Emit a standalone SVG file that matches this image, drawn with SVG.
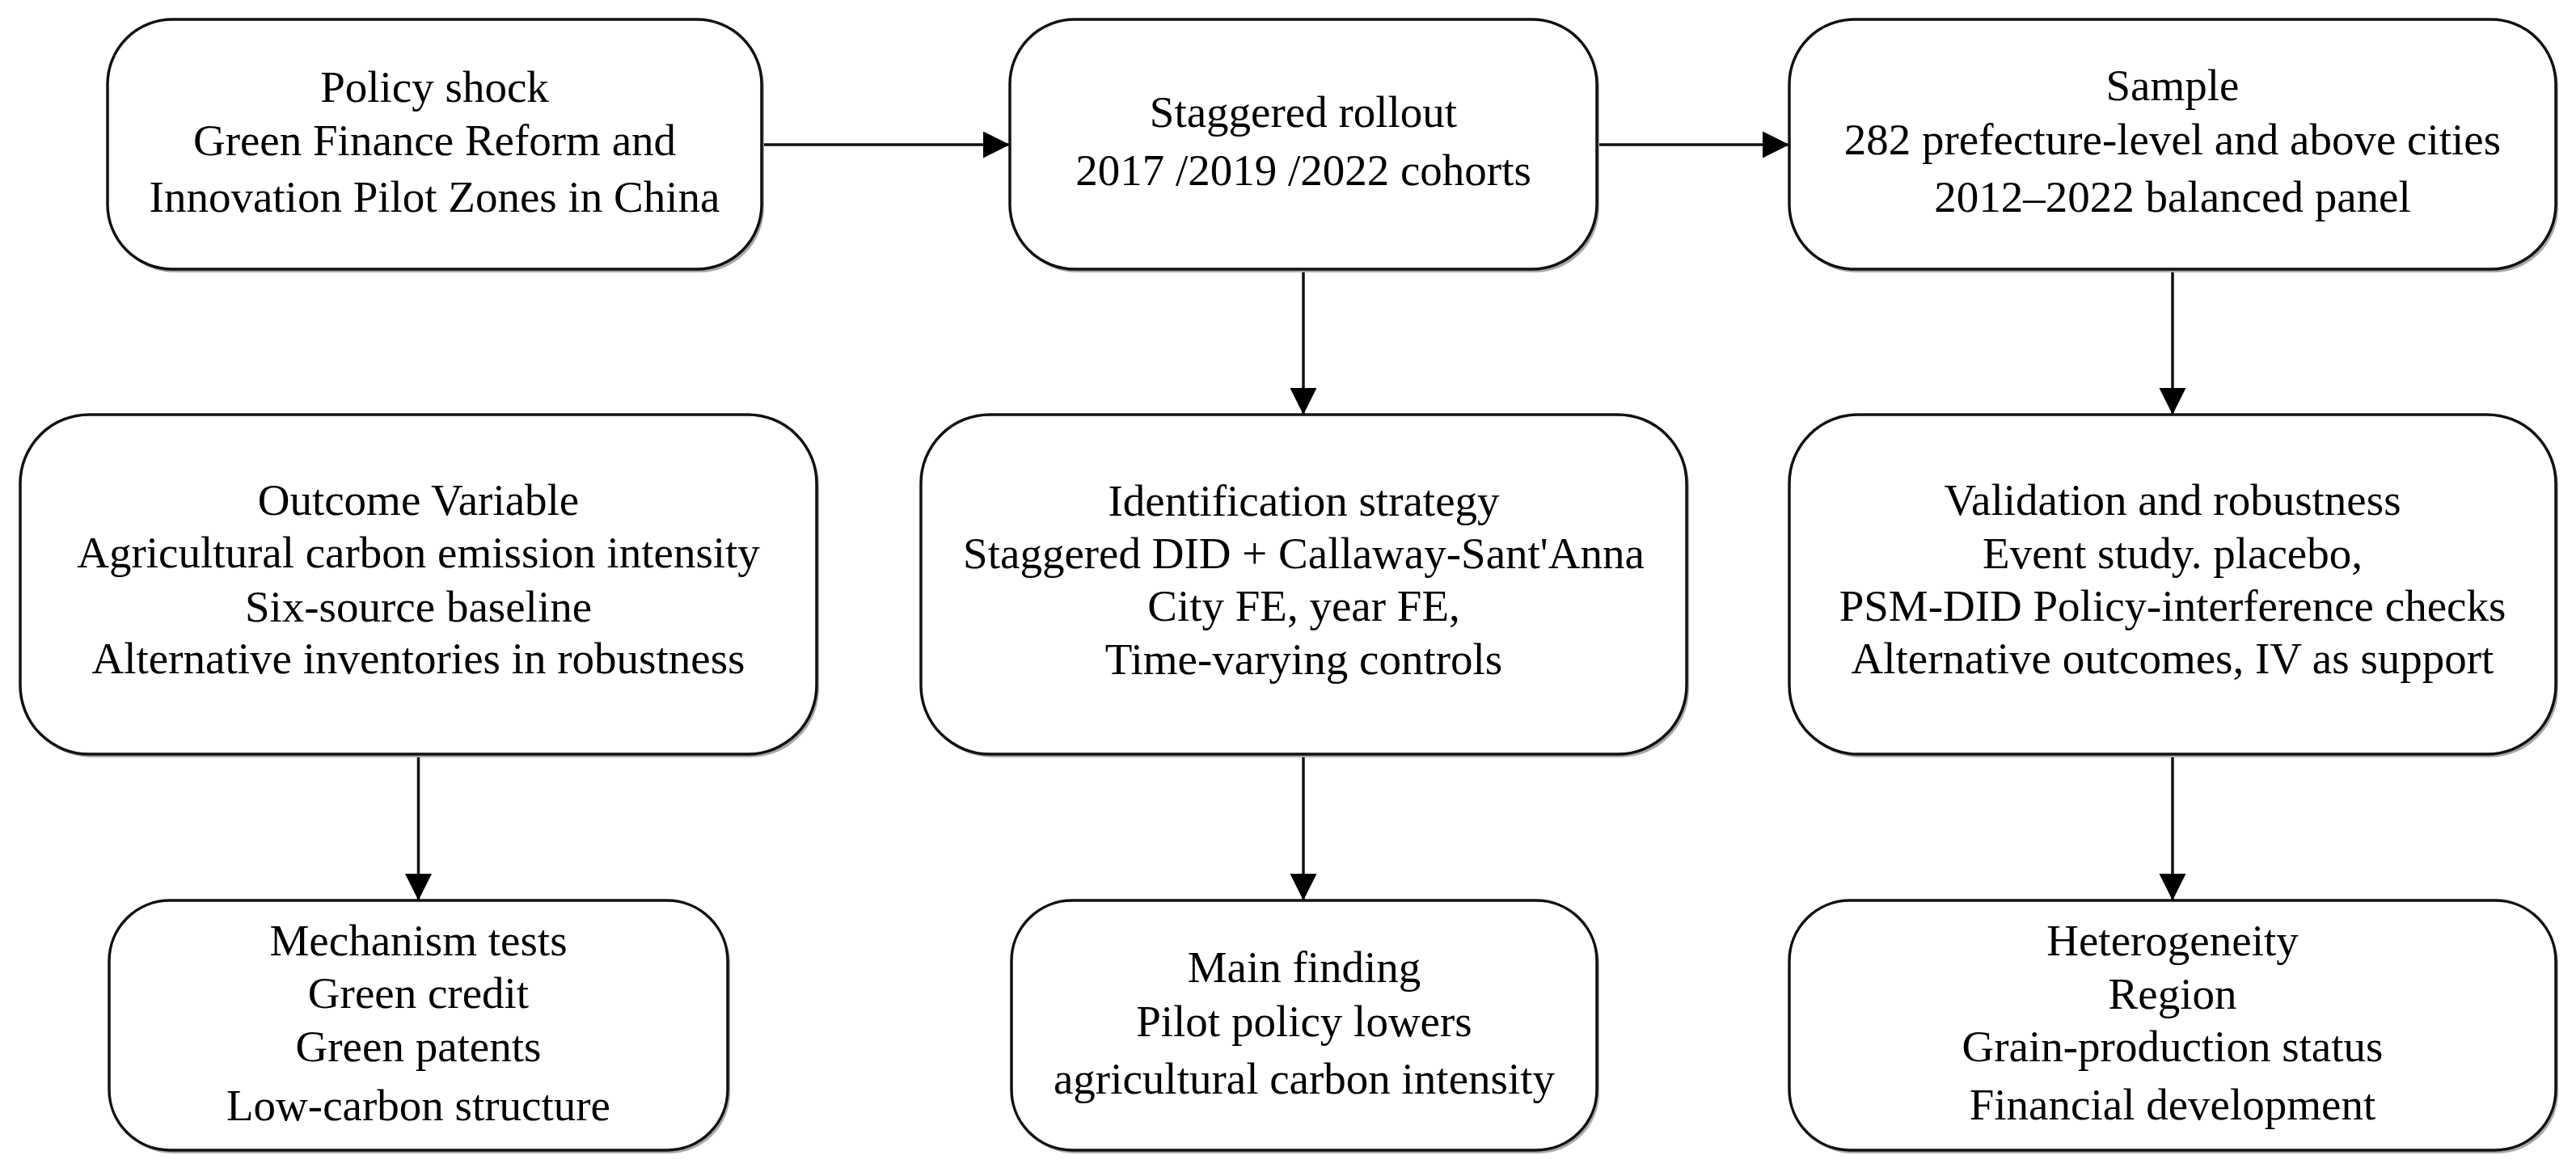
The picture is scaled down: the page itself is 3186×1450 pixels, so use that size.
<svg xmlns="http://www.w3.org/2000/svg" width="3186" height="1450" viewBox="0 0 3186 1450">
<style>
.box{fill:#fff;stroke:#111;stroke-width:3.5}
.sh{fill:#a8a8a8}
.t{font-family:"Liberation Serif","Times New Roman",serif;font-size:55px;fill:#000;text-anchor:middle}
.c{stroke:#111;stroke-width:3.5;fill:none;marker-end:url(#ah)}
</style>
<defs>
<marker id="ah" markerUnits="userSpaceOnUse" markerWidth="34" markerHeight="34" refX="33" refY="16.5" orient="auto">
<path d="M0,0 L33,16.5 L0,33 z" fill="#000"/>
</marker>
</defs>
<rect width="3186" height="1450" fill="#fff"/>
<g id="connectors">
<line class="c" x1="942" y1="179" x2="1249" y2="179"/>
<line class="c" x1="1975" y1="179" x2="2213" y2="179"/>
<line class="c" x1="1612" y1="333" x2="1612" y2="513"/>
<line class="c" x1="2687" y1="333" x2="2687" y2="513"/>
<line class="c" x1="517.5" y1="933" x2="517.5" y2="1114"/>
<line class="c" x1="1612" y1="933" x2="1612" y2="1114"/>
<line class="c" x1="2687" y1="933" x2="2687" y2="1114"/>
</g>
<g id="policy_shock">
<rect class="sh" x="136" y="28" width="809" height="309" rx="80"/>
<rect class="box" x="133" y="24" width="809" height="309" rx="80"/>
<text class="t"><tspan x="537.5" y="126">Policy shock</tspan><tspan x="537.5" y="192">Green Finance Reform and</tspan><tspan x="537.5" y="262">Innovation Pilot Zones in China</tspan></text>
</g>
<g id="staggered_rollout">
<rect class="sh" x="1252" y="28" width="726" height="309" rx="80"/>
<rect class="box" x="1249" y="24" width="726" height="309" rx="80"/>
<text class="t"><tspan x="1612" y="157">Staggered rollout</tspan><tspan x="1612" y="229">2017 /2019 /2022 cohorts</tspan></text>
</g>
<g id="sample">
<rect class="sh" x="2216" y="28" width="948" height="309" rx="80"/>
<rect class="box" x="2213" y="24" width="948" height="309" rx="80"/>
<text class="t"><tspan x="2687" y="124">Sample</tspan><tspan x="2687" y="191">282 prefecture-level and above cities</tspan><tspan x="2687" y="262">2012–2022 balanced panel</tspan></text>
</g>
<g id="outcome_variable">
<rect class="sh" x="28" y="517" width="985" height="420" rx="85"/>
<rect class="box" x="25" y="513" width="985" height="420" rx="85"/>
<text class="t"><tspan x="517.5" y="637">Outcome Variable</tspan><tspan x="517.5" y="702">Agricultural carbon emission intensity</tspan><tspan x="517.5" y="769">Six-source baseline</tspan><tspan x="517.5" y="833">Alternative inventories in robustness</tspan></text>
</g>
<g id="identification_strategy">
<rect class="sh" x="1142" y="517" width="947" height="420" rx="85"/>
<rect class="box" x="1139" y="513" width="947" height="420" rx="85"/>
<text class="t"><tspan x="1612.5" y="638">Identification strategy</tspan><tspan x="1612.5" y="703">Staggered DID + Callaway-Sant'Anna</tspan><tspan x="1612.5" y="768">City FE, year FE,</tspan><tspan x="1612.5" y="834">Time-varying controls</tspan></text>
</g>
<g id="validation_robustness">
<rect class="sh" x="2216" y="517" width="948" height="420" rx="85"/>
<rect class="box" x="2213" y="513" width="948" height="420" rx="85"/>
<text class="t"><tspan x="2687" y="637">Validation and robustness</tspan><tspan x="2687" y="703">Event study. placebo,</tspan><tspan x="2687" y="768">PSM-DID Policy-interference checks</tspan><tspan x="2687" y="833">Alternative outcomes, IV as support</tspan></text>
</g>
<g id="mechanism_tests">
<rect class="sh" x="138" y="1118" width="765" height="309" rx="75"/>
<rect class="box" x="135" y="1114" width="765" height="309" rx="75"/>
<text class="t"><tspan x="517.5" y="1182">Mechanism tests</tspan><tspan x="517.5" y="1247">Green credit</tspan><tspan x="517.5" y="1313">Green patents</tspan><tspan x="517.5" y="1386">Low-carbon structure</tspan></text>
</g>
<g id="main_finding">
<rect class="sh" x="1254" y="1118" width="724" height="309" rx="75"/>
<rect class="box" x="1251" y="1114" width="724" height="309" rx="75"/>
<text class="t"><tspan x="1613" y="1215">Main finding</tspan><tspan x="1613" y="1282">Pilot policy lowers</tspan><tspan x="1613" y="1353">agricultural carbon intensity</tspan></text>
</g>
<g id="heterogeneity">
<rect class="sh" x="2216" y="1118" width="948" height="309" rx="75"/>
<rect class="box" x="2213" y="1114" width="948" height="309" rx="75"/>
<text class="t"><tspan x="2687" y="1182">Heterogeneity</tspan><tspan x="2687" y="1248">Region</tspan><tspan x="2687" y="1313">Grain-production status</tspan><tspan x="2687" y="1385">Financial development</tspan></text>
</g>
</svg>
